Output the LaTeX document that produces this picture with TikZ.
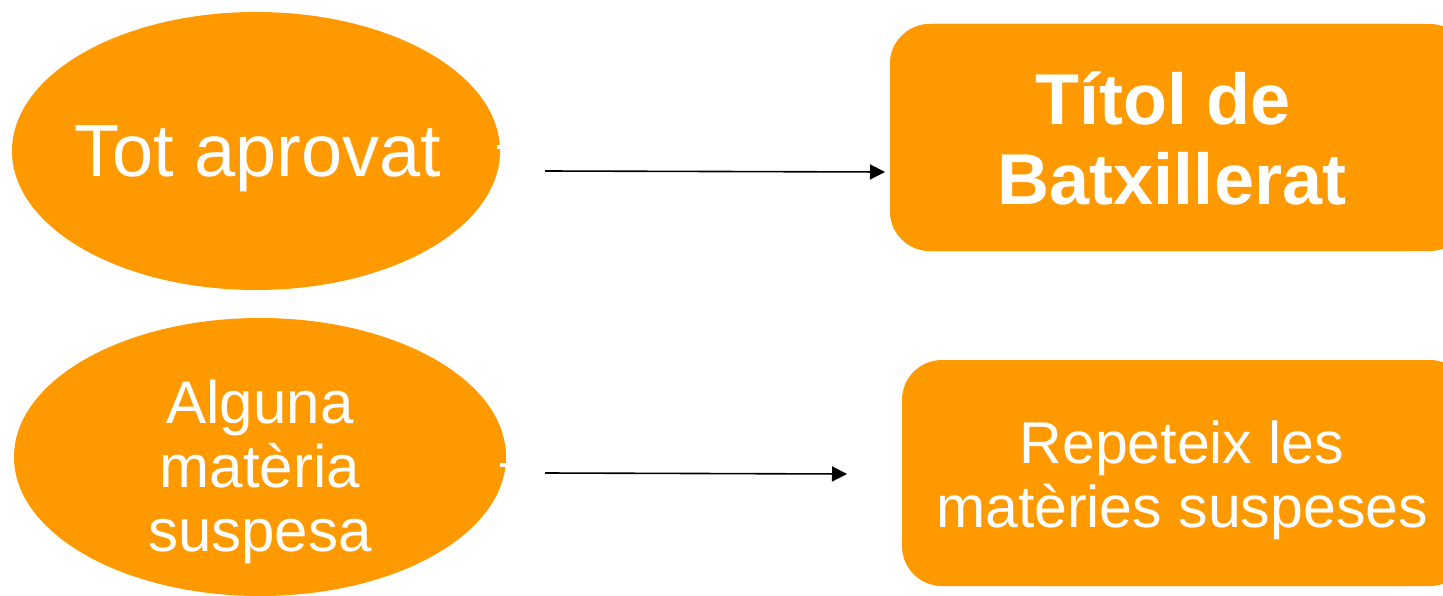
\documentclass[tikz,border=0pt]{standalone}
\usepackage{fontspec}
\setmainfont{Liberation Sans}
\usetikzlibrary{arrows.meta}
\definecolor{orng}{HTML}{FF9900}
\tikzset{
  oval/.style={fill=orng, draw=none},
  box/.style={fill=orng, draw=none, rounded corners=40pt},
  conn/.style={draw=black, line width=1.6pt, -{Triangle[length=15pt,width=15pt]}},
  lbl/.style={text=white, align=center, inner sep=0pt},
  tick/.style={draw=white, line width=4pt}
}
\begin{document}
\begin{tikzpicture}[x=1pt,y=-1pt]
\useasboundingbox (0,0) rectangle (1443,596);
% shapes
\fill[oval] (256,151) ellipse [x radius=244, y radius=139];
\fill[oval] (260,457) ellipse [x radius=246, y radius=139];
\fill[box] (890,24) rectangle (1470,251);
\fill[box] (902,360) rectangle (1470,586);
\fill[box] (1000,360) rectangle (1443,586);
\fill[box] (890,24) rectangle (1443,251);
% white ticks on ellipse edges
\draw[tick] (497,147) -- (502,147);
\draw[tick] (500,464.5) -- (507,464.5);
% labels
\node[lbl, font=\fontsize{74}{80}\selectfont] (a) at (258,159) {Tot aprovat};
\node[lbl, font=\fontsize{60}{64}\selectfont] (b) at (260,472) {Alguna\\matèria\\suspesa};
\node[lbl, font=\bfseries\fontsize{72}{80}\selectfont] (c) at (1172,138) {Títol de\hspace*{18pt}\\Batxillerat};
\node[lbl, font=\fontsize{59}{64}\selectfont] (d) at (1182,480) {Repeteix les\\matèries suspeses};
% connector endpoints
\coordinate (a1) at (545,171);
\coordinate (c1) at (885,172);
\coordinate (b1) at (545,473);
\coordinate (d1) at (847,474);
\draw[conn] (a1) -- (c1);
\draw[conn] (b1) -- (d1);
\end{tikzpicture}
\end{document}
